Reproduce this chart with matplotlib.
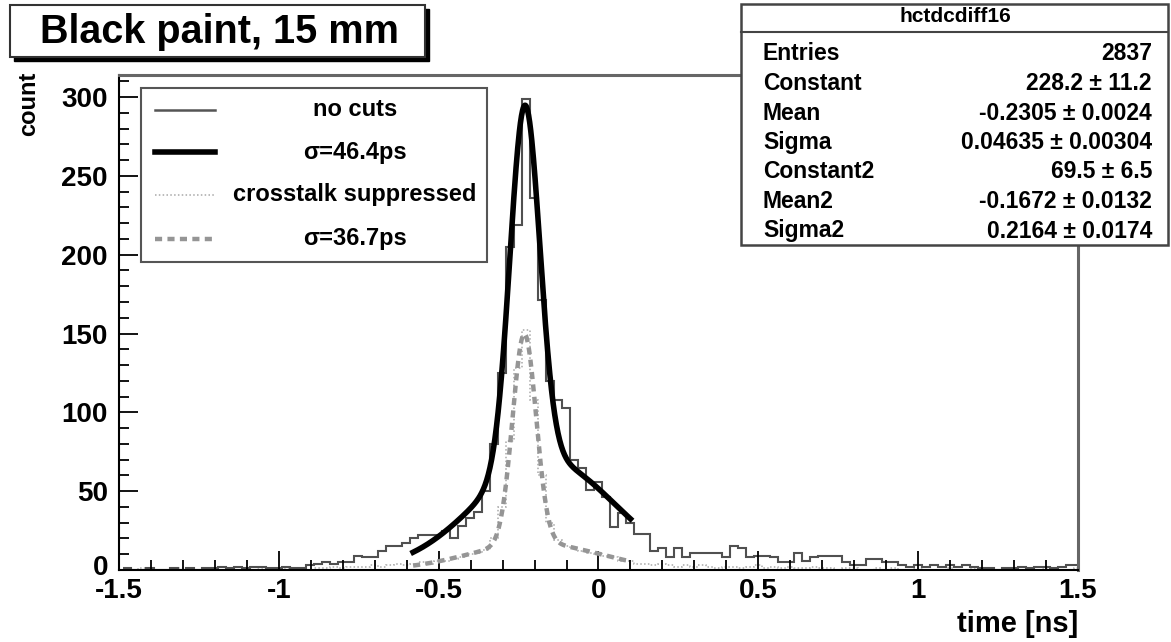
import numpy as np
import matplotlib.pyplot as plt
import matplotlib.transforms as mtransforms
from matplotlib.lines import Line2D
from matplotlib.patches import Rectangle

W, H = 1171, 642
plt.rcParams['font.family'] = ['Liberation Sans', 'DejaVu Sans']
plt.rcParams['font.weight'] = 'bold'

# histogram binning
bin_lo = -1.489
bin_w = 0.025

# "no cuts" histogram, 120 bins
no_cuts = [1, 0, 0, 1, 0, 0, 1, 0, 1, 0, 1, 1, 2, 1, 2, 1, 2, 2, 1, 1, 2, 1, 1,
           3, 4, 5, 4, 5, 5, 9, 8, 8, 12, 15, 15, 17, 20, 22, 22, 22, 25, 20, 28, 33, 37,
           50, 80, 125, 205, 219, 299, 236, 171, 120, 108, 103, 70, 65, 51, 56, 46, 27, 36, 30, 23, 23,
           12, 14, 8, 14, 8, 11, 11, 11, 11, 8, 15, 14, 8, 9, 9, 8, 5, 5, 11, 6, 8, 9, 9, 9, 5, 3, 3, 7, 7, 5, 5,
           3, 2, 3, 2, 3, 2, 3, 2, 3, 2, 1, 1, 0, 1, 1, 2, 1, 2, 2, 1, 2, 3, 3]

# "crosstalk suppressed" histogram, 120 bins
xtalk = [0, 0, 1, 0, 0, 0, 0, 1, 0, 0, 0, 1, 0, 1, 0, 1, 0, 1, 1, 0, 1,
         1, 1, 0, 1, 1, 2, 1, 2, 2, 2, 3, 2, 3, 4, 3, 4, 5, 4, 6, 6, 7, 8, 10, 11,
         13, 20, 40, 82, 128, 152, 108, 60, 30, 19, 15, 14, 12, 11, 10, 9,
         8, 6, 6, 4, 4, 3, 4, 3, 2, 3, 2, 3,
         2, 1, 2, 2, 1, 2, 3, 1, 2, 1, 2, 1, 1, 2, 1, 1, 0, 1,
         1, 0, 0, 1, 0, 1, 0, 0, 1, 0, 0, 0, 1, 0, 0, 1, 0, 0, 0, 0, 1, 0, 0, 0, 1, 0, 0, 0, 1]

# double gaussian fit parameters (stats box) and crosstalk fit (estimated)
fit_all = [228.2, -0.2305, 0.04635, 69.5, -0.1672, 0.2164]
fit_xt = [133.0, -0.232, 0.0367, 17.0, -0.20, 0.20]
fit_range = (-0.58, 0.10)

stats_names = ["Entries", "Constant", "Mean", "Sigma", "Constant2", "Mean2", "Sigma2"]
stats_vals = ["2837", "228.2 \u00b1 11.2", "-0.2305 \u00b1 0.0024", "0.04635 \u00b1 0.00304",
              "69.5 \u00b1 6.5", "-0.1672 \u00b1 0.0132", "0.2164 \u00b1 0.0174"]
legend_labels = ["no cuts", "\u03c3=46.4ps", "crosstalk suppressed", "\u03c3=36.7ps"]


def dgaus(x, p):
    return (p[0] * np.exp(-0.5 * ((x - p[1]) / p[2]) ** 2)
            + p[3] * np.exp(-0.5 * ((x - p[4]) / p[5]) ** 2))


def fx(px):
    return px / W


def fy(py):
    return 1 - py / H


fig = plt.figure(figsize=(W / 100, H / 100), dpi=100)
ax = fig.add_axes([fx(119), fy(570), fx(1078) - fx(119), fy(75) - fy(570)])

edges = bin_lo + bin_w * np.arange(len(no_cuts) + 1)
ax.stairs(xtalk, edges, color='#a8a8a8', lw=1.1, ls=(0, (1, 1.5)), baseline=None)
ax.stairs(no_cuts, edges, color='#505050', lw=1.5, baseline=None)

xf = np.linspace(fit_range[0], fit_range[1], 400)
ax.plot(xf, dgaus(xf, fit_xt), color='#959595', lw=3.2, ls=(0, (1.6, 1.2)))
ax.plot(xf, dgaus(xf, fit_all), color='black', lw=4.0)

ax.set_xlim(-1.5, 1.5)
ax.set_ylim(0, 314)
ax.set_xticks(np.arange(-1.5, 1.51, 0.5))
ax.set_xticklabels(['-1.5', '-1', '-0.5', '0', '0.5', '1', '1.5'])
ax.set_xticks(np.arange(-1.5, 1.51, 0.1), minor=True)
ax.set_yticks(np.arange(0, 301, 50))
ax.set_yticks(np.arange(0, 311, 10), minor=True)
ax.tick_params(axis='both', which='both', direction='in', labelsize=20, width=1.3)
ax.tick_params(axis='both', which='major', length=14)
ax.tick_params(axis='both', which='minor', length=7)
ax.tick_params(axis='x', pad=6)
ax.tick_params(axis='y', pad=8)
for lab in ax.get_xticklabels() + ax.get_yticklabels():
    lab.set_fontweight('bold')
# lift the y "0" a little so it does not sit on the x "-1.5"
ylab0 = ax.get_yticklabels()[0]
ylab0.set_transform(ylab0.get_transform()
                    + mtransforms.ScaledTranslation(0, 5 / 100, fig.dpi_scale_trans))
ax.spines['left'].set_color('black')
ax.spines['bottom'].set_color('black')
ax.spines['left'].set_linewidth(1.5)
ax.spines['bottom'].set_linewidth(1.5)
ax.spines['top'].set_color('#666666')
ax.spines['right'].set_color('#666666')
ax.spines['top'].set_linewidth(2.2)
ax.spines['right'].set_linewidth(2.2)

fig.text(fx(1078), fy(624), "time [ns]", ha='right', va='center', fontsize=21, fontweight='bold')
fig.text(fx(29), fy(72), "count", ha='right', va='center', rotation=90,
         rotation_mode='anchor', fontsize=17, fontweight='bold')

# title box with shadow
fig.add_artist(Rectangle((fx(14), fy(61)), fx(429) - fx(14), fy(9) - fy(61),
                         transform=fig.transFigure, facecolor='black', edgecolor='black'))
fig.add_artist(Rectangle((fx(10), fy(57)), fx(425) - fx(10), fy(5) - fy(57),
                         transform=fig.transFigure, facecolor='white', edgecolor='#333333', lw=1.5))
fig.text(fx(219), fy(32), "Black paint, 15 mm", ha='center', va='center', fontsize=28.5, fontweight='bold')

# legend box
fig.add_artist(Rectangle((fx(141), fy(262)), fx(487) - fx(141), fy(88) - fy(262),
                         transform=fig.transFigure, facecolor='white', edgecolor='#555555', lw=1.5))
leg_rows = [110, 152, 195, 239]
leg_styles = [dict(color='#555555', lw=1.8, ls='-'),
              dict(color='black', lw=4.0, ls='-'),
              dict(color='#a8a8a8', lw=1.1, ls=(0, (1, 1.5))),
              dict(color='#959595', lw=3.2, ls=(0, (1.6, 1.2)))]
for yy, lab, st in zip(leg_rows, legend_labels, leg_styles):
    fig.add_artist(Line2D([fx(155), fx(215)], [fy(yy), fy(yy)], transform=fig.transFigure, **st))
    fig.text(fx(355), fy(yy), lab, ha='center', va='center', fontsize=17, fontweight='bold')

# stats box
fig.add_artist(Rectangle((fx(741), fy(245)), fx(1168) - fx(741), fy(4) - fy(245),
                         transform=fig.transFigure, facecolor='white', edgecolor='#444444', lw=1.8))
fig.add_artist(Line2D([fx(741), fx(1168)], [fy(32), fy(32)], transform=fig.transFigure,
                      color='#444444', lw=1.5))
fig.text(fx(955), fy(17), "hctdcdiff16", ha='center', va='center', fontsize=15, fontweight='bold')
for i, (nm, vl) in enumerate(zip(stats_names, stats_vals)):
    yy = 54 + i * 29.5
    fig.text(fx(763), fy(yy), nm, ha='left', va='center', fontsize=16.5, fontweight='bold')
    fig.text(fx(1152), fy(yy), vl, ha='right', va='center', fontsize=16.5, fontweight='bold')

fig.savefig("out.png", dpi=100)
